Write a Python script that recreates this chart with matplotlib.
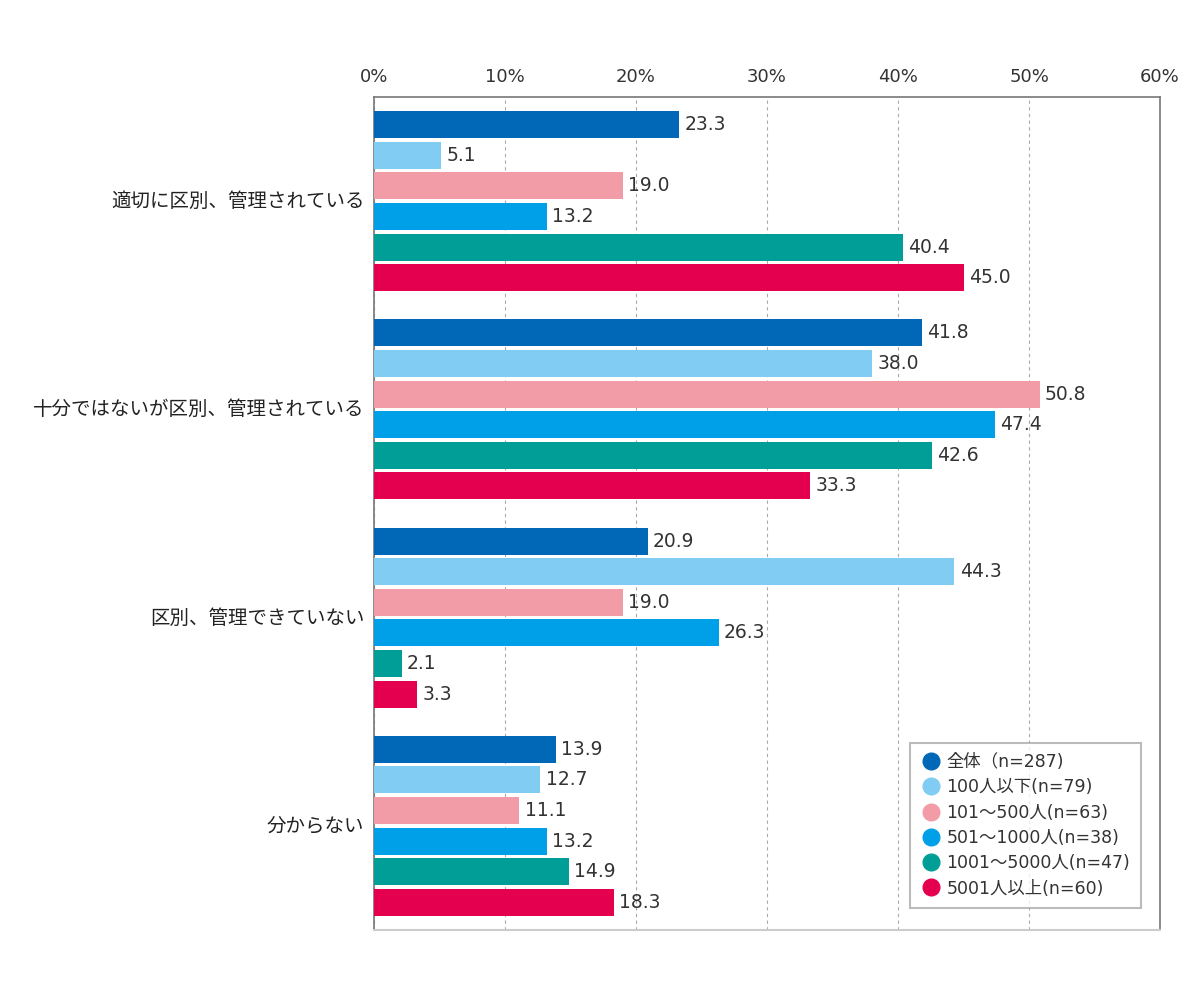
import numpy as np
from matplotlib import pyplot as plt
from matplotlib.lines import Line2D

plt.rcParams['font.family'] = ['DejaVu Sans', 'Noto Sans CJK JP']

# 回答項目
categories = ["適切に区別、管理されている", "十分ではないが区別、管理されている",
              "区別、管理できていない", "分からない"]
# 企業規模
series = ["全体（n=287)", "100人以下(n=79)", "101～500人(n=63)",
          "501～1000人(n=38)", "1001～5000人(n=47)", "5001人以上(n=60)"]
colors = ["#0068B7", "#80CCF3", "#F29CA7", "#00A0E9", "#009E96", "#E5004F"]
# 各項目の値（%）
values = [
    [23.3, 41.8, 20.9, 13.9],
    [5.1, 38.0, 44.3, 12.7],
    [19.0, 50.8, 19.0, 11.1],
    [13.2, 47.4, 26.3, 13.2],
    [40.4, 42.6, 2.1, 14.9],
    [45.0, 33.3, 3.3, 18.3],
]
xticks = [0, 10, 20, 30, 40, 50, 60]

fig = plt.figure(figsize=(12, 10), dpi=100)
ax = fig.add_axes([0.3117, 0.07, 0.655, 0.833])

pitch = 0.147
height = 0.13
for j, (name, vals) in enumerate(zip(series, values)):
    ys = np.arange(len(categories)) + 0.5 + (j - 2.5) * pitch
    ax.barh(ys, vals, height=height, color=colors[j], zorder=3)
    for y, v in zip(ys, vals):
        ax.text(v + 0.4, y, f"{v:.1f}", va="center", ha="left",
                fontsize=13.5, color="#333333", zorder=4)

ax.set_ylim(len(categories), 0)
ax.set_xlim(0, 60)
ax.set_yticks(np.arange(len(categories)) + 0.5 - 0.01)
ax.set_yticklabels(categories, fontsize=14, color="#222222",
                   family=['Noto Sans CJK JP', 'DejaVu Sans'])
ax.set_xticks(xticks)
ax.set_xticklabels([f"{t}%" for t in xticks], fontsize=13, color="#333333")
ax.xaxis.tick_top()
ax.tick_params(length=0, pad=8)
ax.tick_params(axis="y", pad=7)
ax.grid(axis="x", linestyle=(0, (3, 3)), color="#aaaaaa", linewidth=0.8, zorder=0)

for s in ["left", "top", "right"]:
    ax.spines[s].set_color("#777777")
    ax.spines[s].set_linewidth(1.2)
ax.spines["bottom"].set_color("#cccccc")
ax.spines["bottom"].set_linewidth(1.5)

handles = [Line2D([], [], marker="o", linestyle="", markersize=12,
                  markerfacecolor=c, markeredgecolor=c) for c in colors]
leg = ax.legend(handles, series, loc="lower right", bbox_to_anchor=(0.9865, 0.016),
                fontsize=12.5, frameon=True, fancybox=False, handletextpad=0.3,
                labelspacing=0.42, borderpad=0.6, handlelength=1.2)
leg.get_frame().set_edgecolor("#aaaaaa")
leg.get_frame().set_linewidth(1.5)
for t in leg.get_texts():
    t.set_color("#333333")

plt.savefig("out.png")
